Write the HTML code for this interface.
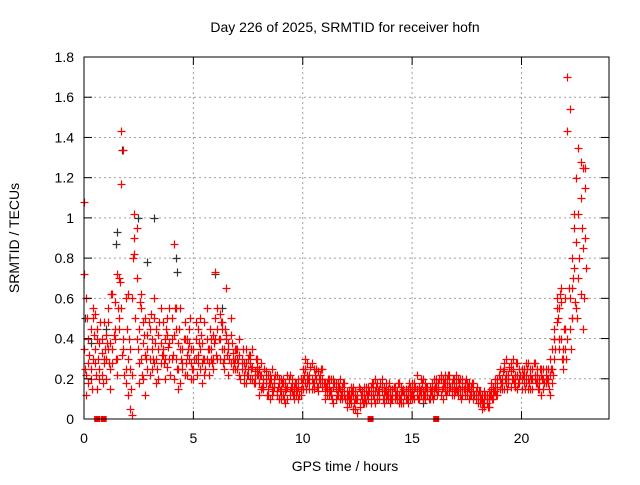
<!DOCTYPE html>
<html><head><meta charset="utf-8"><style>
html,body{margin:0;padding:0;background:#fff;}
svg text{font-family:"Liberation Sans",sans-serif;font-size:14px;fill:#000;}
</style></head><body>
<svg id="chart" width="640" height="480" xmlns="http://www.w3.org/2000/svg">
<rect width="640" height="480" fill="#fff"/>
<g id="grid"></g>
<g id="points"></g>
<g id="axes"></g>
<text x="345" y="32" text-anchor="middle">Day 226 of 2025, SRMTID for receiver hofn</text>
<text x="345" y="471" text-anchor="middle">GPS time / hours</text>
<text x="0" y="0" text-anchor="middle" transform="translate(19,238) rotate(-90)">SRMTID / TECUs</text>
</svg>
<script>
const xTicks=[0,5,10,15,20];
const yTicks=[0,0.2,0.4,0.6,0.8,1,1.2,1.4,1.6,1.8];
const yTickLabels=["0","0.2","0.4","0.6","0.8","1","1.2","1.4","1.6","1.8"];
const sampleStep=0.1;
const seriesA=[
0.35,0.22,0.28,0.45,0.30,0.52,0.40,0.25,0.33,0.48,
0.42,0.55,0.38,0.62,0.45,0.30,0.70,0.55,0.40,0.25,
0.12,0.35,0.60,0.82,0.95,0.45,0.30,0.38,0.50,0.42,
0.30,0.40,0.28,0.45,0.35,0.55,0.32,0.40,0.26,0.38,
0.50,0.42,0.30,0.25,0.55,0.35,0.22,0.40,0.30,0.28,
0.35,0.30,0.45,0.25,0.38,0.48,0.30,0.22,0.35,0.42,
0.50,0.45,0.40,0.35,0.30,0.42,0.38,0.28,0.33,0.30,
0.25,0.32,0.28,0.22,0.35,0.30,0.20,0.26,0.24,0.30,
0.18,0.22,0.15,0.20,0.12,0.18,0.25,0.16,0.14,0.20,
0.15,0.12,0.18,0.10,0.22,0.14,0.16,0.12,0.20,0.15,
0.20,0.25,0.18,0.22,0.28,0.15,0.20,0.24,0.18,0.16,
0.14,0.18,0.12,0.20,0.16,0.10,0.18,0.15,0.12,0.14,
0.10,0.14,0.08,0.12,0.05,0.10,0.15,0.12,0.08,0.14,
0.16,0.12,0.18,0.14,0.10,0.15,0.20,0.12,0.14,0.10,
0.12,0.15,0.10,0.14,0.18,0.12,0.08,0.15,0.12,0.10,
0.14,0.18,0.12,0.10,0.15,0.20,0.14,0.12,0.16,0.18,
0.20,0.15,0.18,0.22,0.16,0.14,0.20,0.18,0.15,0.12,
0.18,0.20,0.15,0.12,0.16,0.14,0.18,0.12,0.10,0.14,
0.10,0.08,0.12,0.06,0.10,0.14,0.12,0.16,0.18,0.20,
0.15,0.20,0.25,0.18,0.22,0.28,0.20,0.16,0.22,0.18,
0.20,0.25,0.18,0.15,0.22,0.20,0.28,0.18,0.15,0.22,
0.20,0.25,0.18,0.30,0.35,0.45,0.60,0.55,0.40,0.35,
0.45,1.70,0.60,0.80,0.95,1.20,1.35,1.10,1.25,0.90];
const seriesB=[
1.08,0.60,0.18,0.25,0.50,0.28,0.15,0.38,0.22,0.30,
0.30,0.48,0.25,0.35,0.58,0.72,0.50,1.43,1.34,0.60,
0.30,0.05,0.22,1.02,0.70,0.28,0.55,0.20,0.32,0.25,
0.45,0.25,0.50,0.30,0.20,0.38,0.48,0.30,0.42,0.55,
0.30,0.87,0.45,0.38,0.18,0.28,0.40,0.32,0.45,0.20,
0.25,0.40,0.32,0.50,0.28,0.22,0.40,0.35,0.30,0.25,
0.73,0.30,0.52,0.45,0.25,0.65,0.35,0.42,0.30,0.25,
0.35,0.22,0.30,0.28,0.18,0.25,0.32,0.20,0.22,0.26,
0.25,0.15,0.20,0.18,0.22,0.10,0.16,0.20,0.12,0.18,
0.20,0.18,0.14,0.22,0.12,0.18,0.10,0.15,0.16,0.12,
0.15,0.30,0.22,0.18,0.15,0.25,0.20,0.16,0.22,0.20,
0.18,0.12,0.16,0.14,0.20,0.15,0.12,0.10,0.16,0.18,
0.14,0.08,0.12,0.16,0.10,0.03,0.08,0.14,0.12,0.16,
0.10,0.16,0.12,0.08,0.18,0.12,0.14,0.16,0.10,0.15,
0.15,0.10,0.14,0.12,0.08,0.16,0.14,0.10,0.15,0.14,
0.18,0.10,0.15,0.12,0.20,0.14,0.10,0.16,0.12,0.15,
0.15,0.20,0.16,0.12,0.20,0.18,0.14,0.22,0.12,0.16,
0.22,0.15,0.12,0.20,0.18,0.12,0.15,0.16,0.14,0.12,
0.12,0.14,0.08,0.10,0.12,0.06,0.15,0.10,0.14,0.16,
0.20,0.15,0.28,0.22,0.18,0.24,0.30,0.20,0.15,0.25,
0.25,0.18,0.22,0.28,0.15,0.25,0.20,0.22,0.18,0.25,
0.15,0.22,0.20,0.12,0.25,0.30,0.48,0.40,0.65,0.30,
0.35,1.43,1.54,0.50,1.02,0.88,0.70,1.28,0.85,1.15];
const seriesC=[
0.72,0.12,0.40,0.20,0.55,0.35,0.45,0.20,0.40,0.28,
0.20,0.35,0.15,0.28,0.40,0.22,0.45,1.17,0.35,0.18,
0.62,0.25,0.02,0.90,0.40,0.18,0.62,0.48,0.12,0.35,
0.22,0.35,0.60,0.18,0.42,0.28,0.35,0.20,0.50,0.30,
0.40,0.20,0.55,0.15,0.35,0.25,0.48,0.22,0.38,0.35,
0.20,0.48,0.28,0.35,0.18,0.30,0.55,0.28,0.40,0.30,
0.40,0.55,0.30,0.48,0.35,0.40,0.22,0.50,0.25,0.35,
0.30,0.40,0.25,0.18,0.28,0.22,0.28,0.35,0.18,0.22,
0.12,0.28,0.18,0.24,0.15,0.22,0.12,0.18,0.22,0.10,
0.10,0.20,0.08,0.16,0.14,0.20,0.12,0.18,0.10,0.20,
0.25,0.18,0.28,0.15,0.20,0.18,0.25,0.14,0.20,0.25,
0.10,0.15,0.20,0.12,0.08,0.18,0.14,0.20,0.10,0.12,
0.06,0.12,0.16,0.05,0.14,0.12,0.06,0.10,0.16,0.08,
0.12,0.08,0.14,0.20,0.12,0.10,0.16,0.08,0.18,0.12,
0.08,0.12,0.16,0.10,0.12,0.08,0.15,0.12,0.08,0.16,
0.10,0.15,0.22,0.16,0.12,0.10,0.18,0.14,0.10,0.12,
0.12,0.18,0.14,0.20,0.10,0.22,0.16,0.14,0.18,0.20,
0.15,0.12,0.20,0.16,0.12,0.18,0.10,0.14,0.18,0.10,
0.08,0.12,0.05,0.14,0.08,0.10,0.18,0.12,0.20,0.12,
0.25,0.18,0.15,0.30,0.20,0.16,0.25,0.22,0.28,0.20,
0.15,0.22,0.28,0.20,0.25,0.15,0.22,0.25,0.20,0.12,
0.25,0.18,0.25,0.22,0.18,0.40,0.55,0.35,0.58,0.25,
0.60,0.40,0.45,0.65,0.75,0.55,1.02,0.62,0.45,1.25];
const seriesD=[
0.25,0.50,0.32,0.15,0.42,0.22,0.30,0.48,0.18,0.35,
0.38,0.28,0.62,0.42,0.30,0.55,0.68,0.32,0.22,0.45,
0.40,0.15,0.80,0.50,0.35,0.58,0.22,0.42,0.30,0.48,
0.52,0.30,0.38,0.25,0.48,0.32,0.28,0.45,0.36,0.22,
0.32,0.55,0.25,0.45,0.30,0.40,0.28,0.35,0.50,0.25,
0.30,0.22,0.38,0.42,0.30,0.25,0.35,0.45,0.28,0.38,
0.32,0.40,0.48,0.28,0.45,0.32,0.30,0.38,0.28,0.35,
0.28,0.20,0.35,0.25,0.22,0.32,0.25,0.18,0.30,0.22,
0.22,0.16,0.25,0.12,0.18,0.20,0.14,0.22,0.16,0.14,
0.18,0.10,0.15,0.20,0.16,0.12,0.18,0.14,0.12,0.18,
0.22,0.15,0.20,0.26,0.18,0.22,0.16,0.20,0.25,0.18,
0.16,0.20,0.14,0.10,0.18,0.12,0.16,0.12,0.18,0.10,
0.12,0.10,0.14,0.08,0.10,0.16,0.12,0.08,0.10,0.12,
0.14,0.18,0.10,0.16,0.14,0.18,0.10,0.14,0.12,0.18,
0.10,0.16,0.12,0.18,0.10,0.14,0.12,0.10,0.18,0.12,
0.12,0.16,0.10,0.14,0.18,0.12,0.16,0.10,0.14,0.10,
0.16,0.12,0.20,0.15,0.18,0.12,0.22,0.16,0.20,0.14,
0.14,0.18,0.10,0.15,0.20,0.16,0.12,0.18,0.12,0.16,
0.14,0.10,0.08,0.12,0.06,0.12,0.10,0.14,0.12,0.22,
0.18,0.24,0.20,0.15,0.26,0.20,0.18,0.28,0.18,0.22,
0.22,0.15,0.25,0.18,0.20,0.28,0.18,0.15,0.25,0.20,
0.18,0.20,0.15,0.25,0.22,0.35,0.50,0.62,0.30,0.45,
0.30,0.65,0.35,0.70,0.58,0.50,0.80,0.95,0.60,0.75];
const blackHours=[0.05,0.3,1.0,1.45,1.5,1.75,2.45,2.9,3.2,4.2,4.25,6.0,6.3,8.0,9.0,10.0,12.0,14.0,15.5,18.5,20.5,21.5,22.3];
const blackVals=[0.5,0.38,0.45,0.87,0.93,1.34,1.0,0.78,1.0,0.8,0.73,0.72,0.55,0.25,0.12,0.15,0.1,0.12,0.08,0.1,0.2,0.4,0.5];
const flagHours=[0.6,0.9,13.1,16.1];

const X0=84,X1=609,Y0=419,Y1=57,XMAX=24,YMAX=1.8;
const sx=h=>X0+(X1-X0)*h/XMAX;
const sy=v=>Y0-(Y0-Y1)*v/YMAX;
const NS="http://www.w3.org/2000/svg";
function mk(tag,attrs,parent){const e=document.createElementNS(NS,tag);for(const k in attrs)e.setAttribute(k,attrs[k]);parent.appendChild(e);return e;}
const grid=document.getElementById('grid'),pts=document.getElementById('points'),axes=document.getElementById('axes');
yTicks.forEach((v,i)=>{
  const y=sy(v);
  if(v>0&&v<YMAX){const g=mk('line',{x1:X0,x2:X1,y1:y,y2:y,stroke:'#a0a0a0','stroke-dasharray':'2,3'},grid);
  
  }
  mk('line',{x1:X0,x2:X0+8,y1:y,y2:y,stroke:'#000'},axes);
  mk('line',{x1:X1,x2:X1-8,y1:y,y2:y,stroke:'#000'},axes);
  const t=mk('text',{x:X0-10,y:y+5,'text-anchor':'end'},axes);
  t.textContent=yTickLabels[i];
  
  
});
xTicks.forEach(h=>{
  const x=sx(h);
  if(h>0){const g=mk('line',{x1:x,x2:x,y1:Y0,y2:Y1,stroke:'#a0a0a0','stroke-dasharray':'2,3'},grid);
  
  }
  mk('line',{x1:x,x2:x,y1:Y0,y2:Y0-8,stroke:'#000'},axes);
  mk('line',{x1:x,x2:x,y1:Y1,y2:Y1+8,stroke:'#000'},axes);
  const t=mk('text',{x:x,y:Y0+24,'text-anchor':'middle'},axes);
  t.textContent=String(h);
  
  
});
const frame=mk('rect',{x:X0,y:Y1,width:X1-X0,height:Y0-Y1,fill:'none',stroke:'#000'},axes);


function plus(h,v,color){
  const x=Math.round(sx(h))+0.5,y=Math.round(sy(v))+0.5;
  const p=mk('path',{d:`M${x-4} ${y}H${x+4}M${x} ${y-4}V${y+4}`,stroke:color,'stroke-width':1.2,fill:'none'},pts);
  
  
}
blackHours.forEach((h,i)=>plus(h,blackVals[i],'#333'));
[seriesA,seriesB,seriesC].forEach(s=>s.forEach((v,i)=>plus(i*sampleStep,v,'#ff0000')));
seriesD.forEach((v,i)=>plus(i*sampleStep+sampleStep/2,v,'#ff0000'));
flagHours.forEach(h=>{
  const r=mk('rect',{x:sx(h)-3,y:Y0-3,width:6,height:6,fill:'#ff0000'},pts);
  
  
});
</script>
</body></html>
